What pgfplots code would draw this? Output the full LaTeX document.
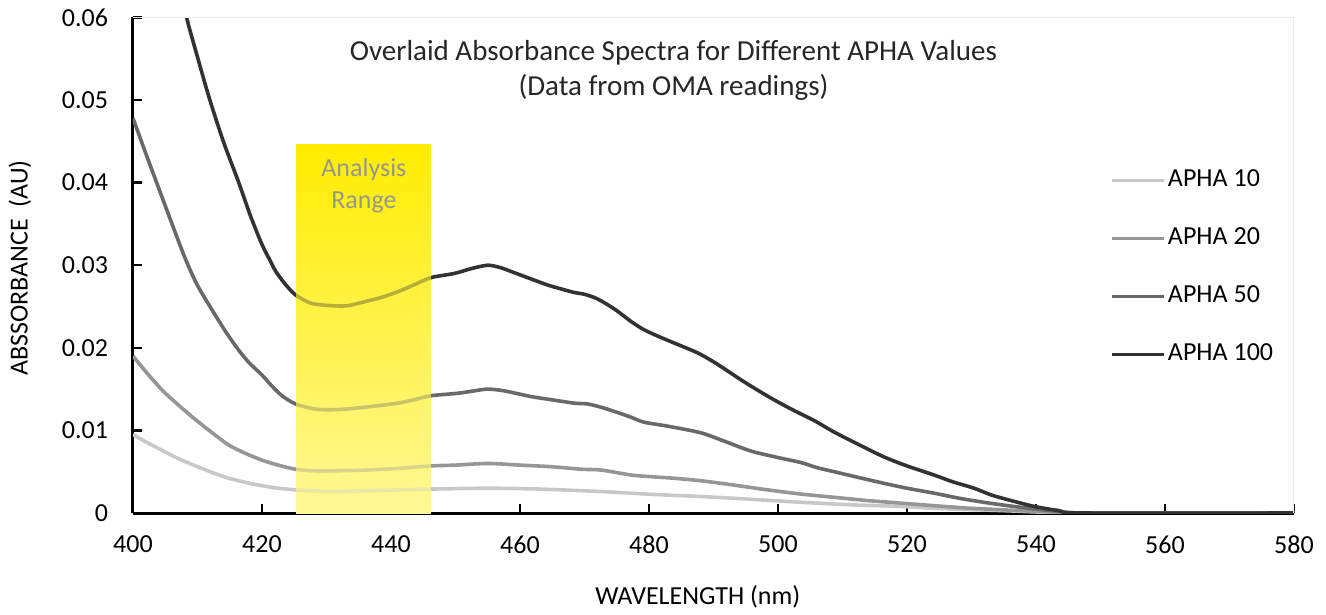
\documentclass[border=0pt]{standalone}
\usepackage{pgfplots}
\pgfplotsset{compat=1.18}
\usepackage{fontspec}
\setmainfont{Carlito}
\definecolor{cten}{RGB}{200,200,200}
\definecolor{ctwenty}{RGB}{150,150,150}
\definecolor{cfifty}{RGB}{105,105,105}
\definecolor{chund}{RGB}{50,50,50}
\definecolor{ytop}{RGB}{255,237,0}
\definecolor{ybot}{RGB}{255,248,150}
\definecolor{txtgray}{RGB}{150,150,145}

\pgfplotstableread{
x y
400 0.0095
402 0.0086
404.5 0.0076
407 0.0066
409.7 0.0057
412.3 0.0049
414.9 0.0042
417.5 0.0037
420 0.0033
422.5 0.0030
425.2 0.0028
428 0.0027
430.7 0.0026
436 0.0027
441.1 0.0028
446.2 0.0029
455 0.0030
463 0.0029
472.6 0.0026
477.2 0.0024
482 0.0022
488 0.0020
495 0.0017
503.6 0.0013
511 0.0010
519 0.0008
526 0.0005
534.5 0.0003
541 0.0001
547.5 0
580 0
}\aphaten

\pgfplotstableread{
x y
400 0.0190
402 0.0171
404.5 0.0149
407 0.0131
409.7 0.0113
412.3 0.0097
414.9 0.0082
417.5 0.0072
420 0.0064
422.5 0.0058
425.2 0.0053
428 0.0051
430.7 0.0051
436 0.0052
441.1 0.0054
446.2 0.0057
450 0.0058
455 0.0060
460 0.0058
465 0.0056
469.5 0.0053
472.6 0.0052
477.2 0.0046
480.3 0.0044
484 0.0042
488.1 0.0039
493 0.0034
498.4 0.0028
503.5 0.0023
508.7 0.0019
514 0.0015
519 0.0012
524 0.0009
529.3 0.0006
534.5 0.0004
540 0.0002
547.5 0
580 0
}\aphatwenty

\pgfplotstableread{
x y
400 0.0478
402 0.0435
404 0.0393
406 0.0351
408 0.0310
409.7 0.0280
411 0.0262
412.8 0.0239
414.5 0.0218
416.4 0.0197
418 0.0182
420 0.0167
421.5 0.0154
423.1 0.0142
425.2 0.0132
428.1 0.0126
430.7 0.0125
433.3 0.0126
437 0.0129
441.1 0.0133
443.5 0.0137
446.2 0.0142
450.4 0.0145
453 0.0148
455.0 0.0150
457.5 0.0148
461.7 0.0141
465 0.0137
468.4 0.0133
470.5 0.0132
472.6 0.0128
475 0.0122
477.2 0.0116
479.2 0.0110
483 0.0105
488.1 0.0097
492 0.0086
495.8 0.0075
499.5 0.0068
503.6 0.0061
506 0.0055
508.7 0.0050
512.5 0.0043
516.4 0.0036
520 0.0030
524.2 0.0024
528 0.0018
531.9 0.0013
535.5 0.0009
539.7 0.0005
543.5 0.0002
547.5 0
580 0
}\aphafifty

\pgfplotstableread{
x y
400 0.0900
402 0.0820
404 0.0745
406 0.0675
408.3 0.0600
410 0.0552
411.8 0.0503
414 0.0450
416.4 0.0400
418.2 0.0360
420.0 0.0325
421.3 0.0305
422.1 0.0293
423.5 0.0278
425.2 0.0264
427.6 0.0254
430.7 0.0251
433.3 0.0251
436 0.0256
438.5 0.0261
441.1 0.0268
443.5 0.0276
446.2 0.0285
449.8 0.0290
452.5 0.0296
455.0 0.0300
457 0.0297
459.1 0.0291
461.5 0.0284
464.3 0.0276
466.5 0.0271
468.4 0.0267
469.9 0.0265
471.5 0.0261
473.0 0.0255
475 0.0245
477.2 0.0232
479.2 0.0222
482 0.0212
485.4 0.0201
487.5 0.0194
489.6 0.0185
492 0.0173
494.3 0.0161
497 0.0148
499.4 0.0137
502.5 0.0124
505.6 0.0112
508.7 0.0098
512.5 0.0083
516.4 0.0068
520 0.0057
524.2 0.0046
527 0.0038
530.4 0.0030
533 0.0022
535.7 0.0016
539.7 0.0008
543.5 0.0003
547.5 0
580 0
}\aphahund

\begin{document}
\begin{tikzpicture}
\begin{axis}[
  name=ax,
  scale only axis,
  width=580.5bp, height=247.8bp,
  xmin=400, xmax=580, ymin=0, ymax=0.06,
  xtick={400,420,...,580},
  ytick={0,0.01,0.02,0.03,0.04,0.05,0.06},
  yticklabels={0,0.01,0.02,0.03,0.04,0.05,0.06},
  scaled y ticks=false,
  /pgf/number format/assume math mode=true,
  axis x line*=bottom, axis y line*=left,
  axis line style={line width=1.5bp, black, -},
  xtick align=inside, ytick align=inside,
  major tick length=4.5bp,
  tick style={line width=1.2bp, black},
  ticklabel style={font=\fontsize{13bp}{15bp}\selectfont, text=black},
  xticklabel style={yshift=-8bp},
  yticklabel style={xshift=-9bp},
  xlabel={WAVELENGTH (nm)},
  ylabel={ABSSORBANCE\ \ (AU)},
  every axis x label/.style={at={(rel axis cs:0.4865,0)}, yshift=-42bp, anchor=center,
    font=\fontsize{13bp}{15bp}\selectfont, text=black},
  every axis y label/.style={at={(rel axis cs:0,0.494)}, xshift=-56.5bp, rotate=90, anchor=center,
    font=\fontsize{13bp}{15bp}\selectfont, text=black},
  legend style={at={(rel axis cs:0.8415,0.700)}, anchor=north west, draw=none, fill=none,
    font=\fontsize{13bp}{15bp}\selectfont, row sep=15bp, inner sep=0pt,
    nodes={inner sep=1bp, text height=9bp, text depth=3bp}},
  legend cell align=left,
  legend image code/.code={\draw[#1] (0bp,0bp) -- (26bp,0bp);},
  every axis plot/.append style={line width=1.8bp, line join=round},
]
\addplot[draw=none, top color=ytop, bottom color=ybot, forget plot]
  coordinates {(425.3,0.0446) (446.2,0.0446)} \closedcycle;
\addplot[cten, smooth, tension=0.45] table[x=x,y=y] {\aphaten};
\addlegendentry{APHA 10}
\addplot[ctwenty, smooth, tension=0.45] table[x=x,y=y] {\aphatwenty};
\addlegendentry{APHA 20}
\addplot[cfifty, smooth, tension=0.45] table[x=x,y=y] {\aphafifty};
\addlegendentry{APHA 50}
\addplot[chund, smooth, tension=0.45] table[x=x,y=y] {\aphahund};
\addlegendentry{APHA 100}
\addplot[draw=none, top color=ytop, bottom color=ybot, fill opacity=0.65, forget plot]
  coordinates {(425.3,0.0446) (446.2,0.0446)} \closedcycle;
\node[align=center, text=txtgray, font=\fontsize{13bp}{16bp}\selectfont] at (axis cs:435.8,0.0396) {Analysis\\Range};
\node[align=center, text=black!85, font=\fontsize{14.5bp}{17.5bp}\selectfont] at (rel axis cs:0.4655,0.8929) {Overlaid Absorbance Spectra for Different APHA Values\\(Data from OMA readings)};
\draw[black!8, line width=1bp] (rel axis cs:0,1) -- (rel axis cs:1,1) -- (rel axis cs:1,0);
\end{axis}
\path ([shift={(-66.5bp,-48.5bp)}]ax.south west) rectangle ++(663bp,305bp);
\end{tikzpicture}
\end{document}
